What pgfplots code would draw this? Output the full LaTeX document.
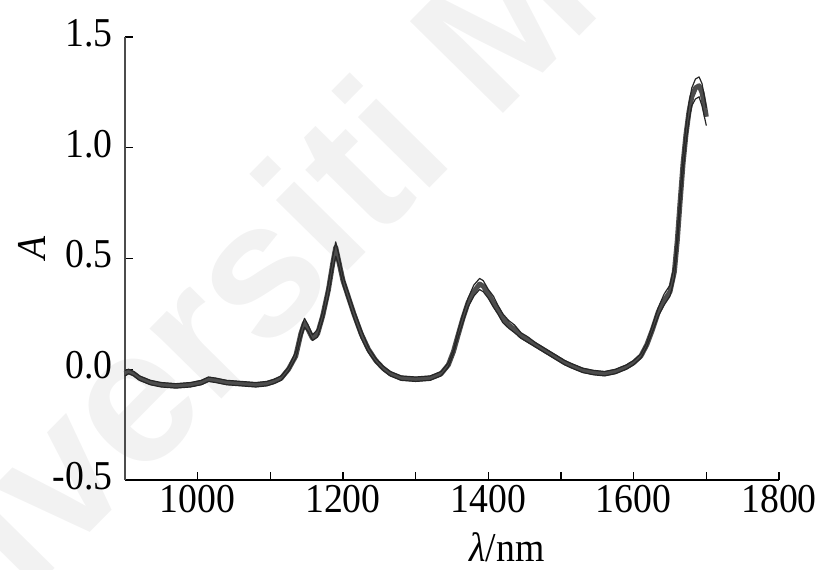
\documentclass[border=0pt]{standalone}
\usepackage{fontspec}
\setmainfont{Liberation Serif}[FakeStretch=0.92]
\newfontfamily\wmfont{Liberation Sans}[BoldFont={* Bold}]
\usepackage{pgfplots}
\pgfplotsset{compat=1.18}
\newcommand\bigf{\fontsize{20.5}{24}\selectfont}
\definecolor{curve}{HTML}{4d4d4d}
\begin{document}
\begin{tikzpicture}
% faint watermark, behind the chart
\node[rotate=45.4, text=gray!10, font=\wmfont\bfseries\fontsize{95}{100}\selectfont, anchor=base west, inner sep=0pt]
  at (-138pt,-148.5pt) {Universiti Malaya};
\begin{axis}[
  anchor=south west, at={(0,0)},
  scale only axis, width=327pt, height=221.5pt,
  xmin=900, xmax=1800, ymin=-0.5, ymax=1.5,
  axis x line=bottom, axis y line=left,
  x axis line style={-, line width=0.7pt, black},
  y axis line style={-, line width=1.1pt, black!70},
  tick align=inside, major tick length=4pt,
  tick style={line width=0.6pt, black},
  xtick={1000,1100,...,1800},
  xticklabels={1000,,1200,,1400,,1600,,1800},
  ytick={-0.5,0,0.5,1,1.5},
  yticklabels={-0.5,0.0,0.5,1.0,1.5},
  tick label style={font=\bigf},
  xticklabel style={anchor=north, inner sep=0pt, yshift=-2.5pt},
  yticklabel style={anchor=east, inner sep=0pt, xshift=-6pt, yshift=2pt},
  xlabel={\textit{λ}/nm},
  ylabel={\textit{A}},
  every axis x label/.style={at={(axis description cs:0.584,-0.151)}, anchor=center, font=\bigf},
  every axis y label/.style={at={(axis description cs:-0.142,0.524)}, anchor=center, rotate=90, font=\bigf},
  clip=false,
]
% main spectrum (band centre)
\addplot[curve, line width=2.5pt, line join=round] coordinates {
(900,-0.02) (905,-0.01) (912,-0.02) (920,-0.04) (935,-0.06) (950,-0.07)
(970,-0.075) (990,-0.07) (1005,-0.06) (1015,-0.045) (1025,-0.05) (1040,-0.06)
(1060,-0.065) (1080,-0.07) (1095,-0.065) (1105,-0.055) (1115,-0.04) (1125,0.0)
(1135,0.06) (1142,0.16) (1147,0.21) (1152,0.18) (1158,0.14) (1165,0.16)
(1172,0.24) (1180,0.36) (1186,0.48) (1190,0.55) (1194,0.49) (1200,0.40)
(1208,0.32) (1215,0.25) (1225,0.16) (1235,0.09) (1245,0.04) (1255,0.005)
(1265,-0.02) (1280,-0.04) (1300,-0.045) (1320,-0.04) (1335,-0.02) (1345,0.02)
(1352,0.08) (1358,0.15) (1365,0.23) (1372,0.30) (1380,0.35) (1388,0.385)
(1393,0.375) (1400,0.34) (1407,0.30) (1413,0.27) (1420,0.23) (1428,0.20)
(1436,0.18) (1445,0.15) (1455,0.13) (1465,0.11) (1475,0.09) (1485,0.07)
(1495,0.05) (1505,0.03) (1515,0.015) (1530,-0.005) (1545,-0.015) (1560,-0.02)
(1575,-0.01) (1590,0.01) (1600,0.03) (1610,0.06) (1618,0.11) (1626,0.18)
(1634,0.26) (1642,0.31) (1650,0.35) (1656,0.44) (1660,0.58) (1664,0.76)
(1668,0.93) (1672,1.06) (1676,1.16) (1680,1.23) (1685,1.27) (1690,1.28)
(1694,1.25) (1698,1.18) (1700,1.14)
};
% upper spectrum
\addplot[black!85, line width=0.6pt, line join=round] coordinates {
(900,-0.005) (905,0.0) (912,-0.01) (920,-0.03) (935,-0.05) (950,-0.06)
(970,-0.065) (990,-0.06) (1005,-0.05) (1015,-0.035) (1025,-0.04) (1040,-0.05)
(1060,-0.055) (1080,-0.06) (1095,-0.055) (1105,-0.045) (1115,-0.03) (1125,0.01)
(1135,0.08) (1142,0.18) (1147,0.23) (1152,0.20) (1158,0.155) (1165,0.18)
(1172,0.26) (1180,0.39) (1186,0.51) (1190,0.575) (1194,0.52) (1200,0.42)
(1208,0.34) (1215,0.27) (1225,0.18) (1235,0.10) (1245,0.05) (1255,0.015)
(1265,-0.01) (1280,-0.03) (1300,-0.035) (1320,-0.03) (1335,-0.01) (1345,0.03)
(1352,0.09) (1358,0.17) (1365,0.25) (1372,0.32) (1380,0.38) (1388,0.41)
(1393,0.40) (1400,0.36) (1407,0.33) (1413,0.29) (1420,0.25) (1428,0.22)
(1436,0.20) (1445,0.165) (1455,0.145) (1465,0.12) (1475,0.10) (1485,0.08)
(1495,0.06) (1505,0.04) (1515,0.025) (1530,0.005) (1545,-0.005) (1560,-0.01)
(1575,0.0) (1590,0.02) (1600,0.04) (1610,0.07) (1618,0.12) (1626,0.20)
(1634,0.28) (1642,0.34) (1650,0.38) (1656,0.47) (1660,0.62) (1664,0.80)
(1668,0.97) (1672,1.10) (1676,1.20) (1680,1.27) (1685,1.31) (1690,1.32)
(1694,1.29) (1698,1.22) (1700,1.18)
};
% lower spectrum
\addplot[black!85, line width=0.6pt, line join=round] coordinates {
(900,-0.03) (905,-0.02) (912,-0.03) (920,-0.05) (935,-0.07) (950,-0.08)
(970,-0.085) (990,-0.08) (1005,-0.07) (1015,-0.055) (1025,-0.06) (1040,-0.07)
(1060,-0.075) (1080,-0.08) (1095,-0.075) (1105,-0.065) (1115,-0.05) (1125,-0.01)
(1135,0.05) (1142,0.14) (1147,0.19) (1152,0.17) (1158,0.13) (1165,0.145)
(1172,0.22) (1180,0.33) (1186,0.45) (1190,0.51) (1194,0.47) (1200,0.38)
(1208,0.30) (1215,0.23) (1225,0.14) (1235,0.075) (1245,0.03) (1255,-0.005)
(1265,-0.03) (1280,-0.05) (1300,-0.055) (1320,-0.05) (1335,-0.03) (1345,0.01)
(1352,0.07) (1358,0.14) (1365,0.21) (1372,0.28) (1380,0.33) (1388,0.36)
(1393,0.35) (1400,0.32) (1407,0.28) (1413,0.25) (1420,0.21) (1428,0.185)
(1436,0.165) (1445,0.14) (1455,0.12) (1465,0.10) (1475,0.08) (1485,0.06)
(1495,0.04) (1505,0.02) (1515,0.005) (1530,-0.015) (1545,-0.025) (1560,-0.03)
(1575,-0.02) (1590,0.0) (1600,0.02) (1610,0.05) (1618,0.10) (1626,0.17)
(1634,0.24) (1642,0.29) (1650,0.33) (1656,0.41) (1660,0.55) (1664,0.72)
(1668,0.89) (1672,1.02) (1676,1.12) (1680,1.19) (1685,1.22) (1690,1.23)
(1694,1.19) (1698,1.13) (1700,1.10)
};
\end{axis}
\pgfresetboundingbox
\useasboundingbox (-62.5pt,-44.5pt) rectangle (349pt,240pt);
\end{tikzpicture}
\end{document}
